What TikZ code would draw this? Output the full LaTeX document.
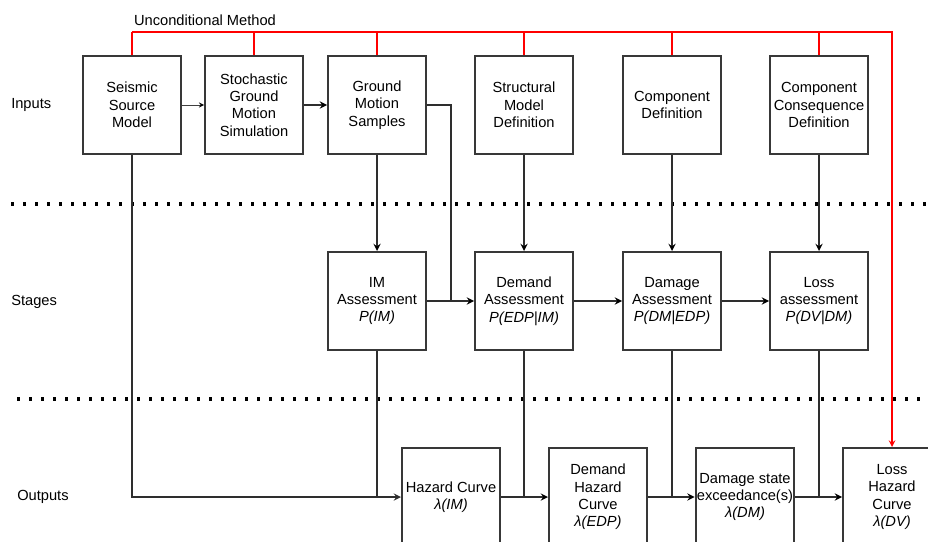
\documentclass[tikz,border=0pt]{standalone}
\usepackage{fontspec}
\setmainfont{Liberation Sans}
\usepackage{tikz}
\usetikzlibrary{arrows}
\usetikzlibrary{positioning}

\begin{document}
\begin{tikzpicture}[x=0.75pt,y=-0.75pt,>=stealth,
  box/.style={draw=black!78,line width=1.5pt,minimum width=73.5pt,minimum height=73.5pt,align=center,inner sep=1pt,font=\fontsize{11}{13}\selectfont},
  lab/.style={anchor=west,inner sep=0pt,font=\fontsize{11}{13}\selectfont},
  flow/.style={line width=1.4pt,draw=black!82},
  uncond/.style={line width=1.2pt,draw=red},
  sep/.style={line width=2.3pt,dash pattern=on 2.3pt off 6.7pt}]
\useasboundingbox (0,0) rectangle (928,542);
\node[lab] at (11,105) (inp) {Inputs};
\node[lab] at (11,302) (stg) {Stages};
\node[lab] at (17,497) (outp) {Outputs};
\node[font=\fontsize{11}{13}\selectfont] at (205,20) (um) {Unconditional Method};
\draw[sep] (11,204) -- (928,204);
\draw[sep] (17,399) -- (928,399);
\node[box] at (132,105) (ssm) {Seismic\\Source\\Model};
\node[box] at (254,105) (sgm) {Stochastic\\Ground\\Motion\\Simulation};
\node[box] at (377,105) (gms) {Ground\\Motion\\Samples};
\node[box] at (524,105) (smd) {Structural\\Model\\Definition};
\node[box] at (672,105) (cd) {Component\\Definition};
\node[box] at (819,105) (ccd) {Component\\Consequence\\Definition};
\node[box] at (377,301) (ima) {IM\\Assessment\\\textit{P(IM)}};
\node[box] at (524,301) (dma) {Demand\\Assessment\\\textit{P(EDP|IM)}};
\node[box] at (672,301) (dga) {Damage\\Assessment\\\textit{P(DM|EDP)}};
\node[box] at (819,301) (lsa) {Loss\\assessment\\\textit{P(DV|DM)}};
\node[box] at (451,497) (hz) {Hazard Curve\\\textit{λ(IM)}};
\node[box] at (598,497) (dhc) {Demand\\Hazard\\Curve\\\textit{λ(EDP)}};
\node[box] at (745,497) (dse) {Damage state\\exceedance(s)\\\textit{λ(DM)}};
\node[box] at (892,497) (lhc) {Loss\\Hazard\\Curve\\\textit{λ(DV)}};
\coordinate (redtop) at (0,32);
\coordinate (gmsjoin) at (451,301);
\path[->,line width=0.7pt,draw=black!75] (ssm) edge (sgm);
\path[->,flow] (sgm) edge (gms);
\path[->,flow] (gms) edge (ima);
\path[->,flow] (smd) edge (dma);
\path[->,flow] (cd) edge (dga);
\path[->,flow] (ccd) edge (lsa);
\path[->,flow] (ima) edge (dma);
\path[->,flow] (dma) edge (dga);
\path[->,flow] (dga) edge (lsa);
\draw[flow] (gms.east) -| (gmsjoin);
\draw[->,flow] (ssm.south) |- (hz.west);
\draw[flow] (ima.south) -- (ima.south |- hz.west);
\path[->,flow] (hz) edge (dhc);
\draw[flow] (dma.south) -- (dma.south |- dhc.west);
\path[->,flow] (dhc) edge (dse);
\draw[flow] (dga.south) -- (dga.south |- dse.west);
\path[->,flow] (dse) edge (lhc);
\draw[flow] (lsa.south) -- (lsa.south |- lhc.west);
\foreach \n in {ssm,sgm,gms,smd,cd,ccd}
  \draw[uncond] (\n.north) -- (\n.north |- redtop);
\draw[->,uncond] (ssm.north |- redtop) -| (lhc.north);
\end{tikzpicture}
\end{document}
